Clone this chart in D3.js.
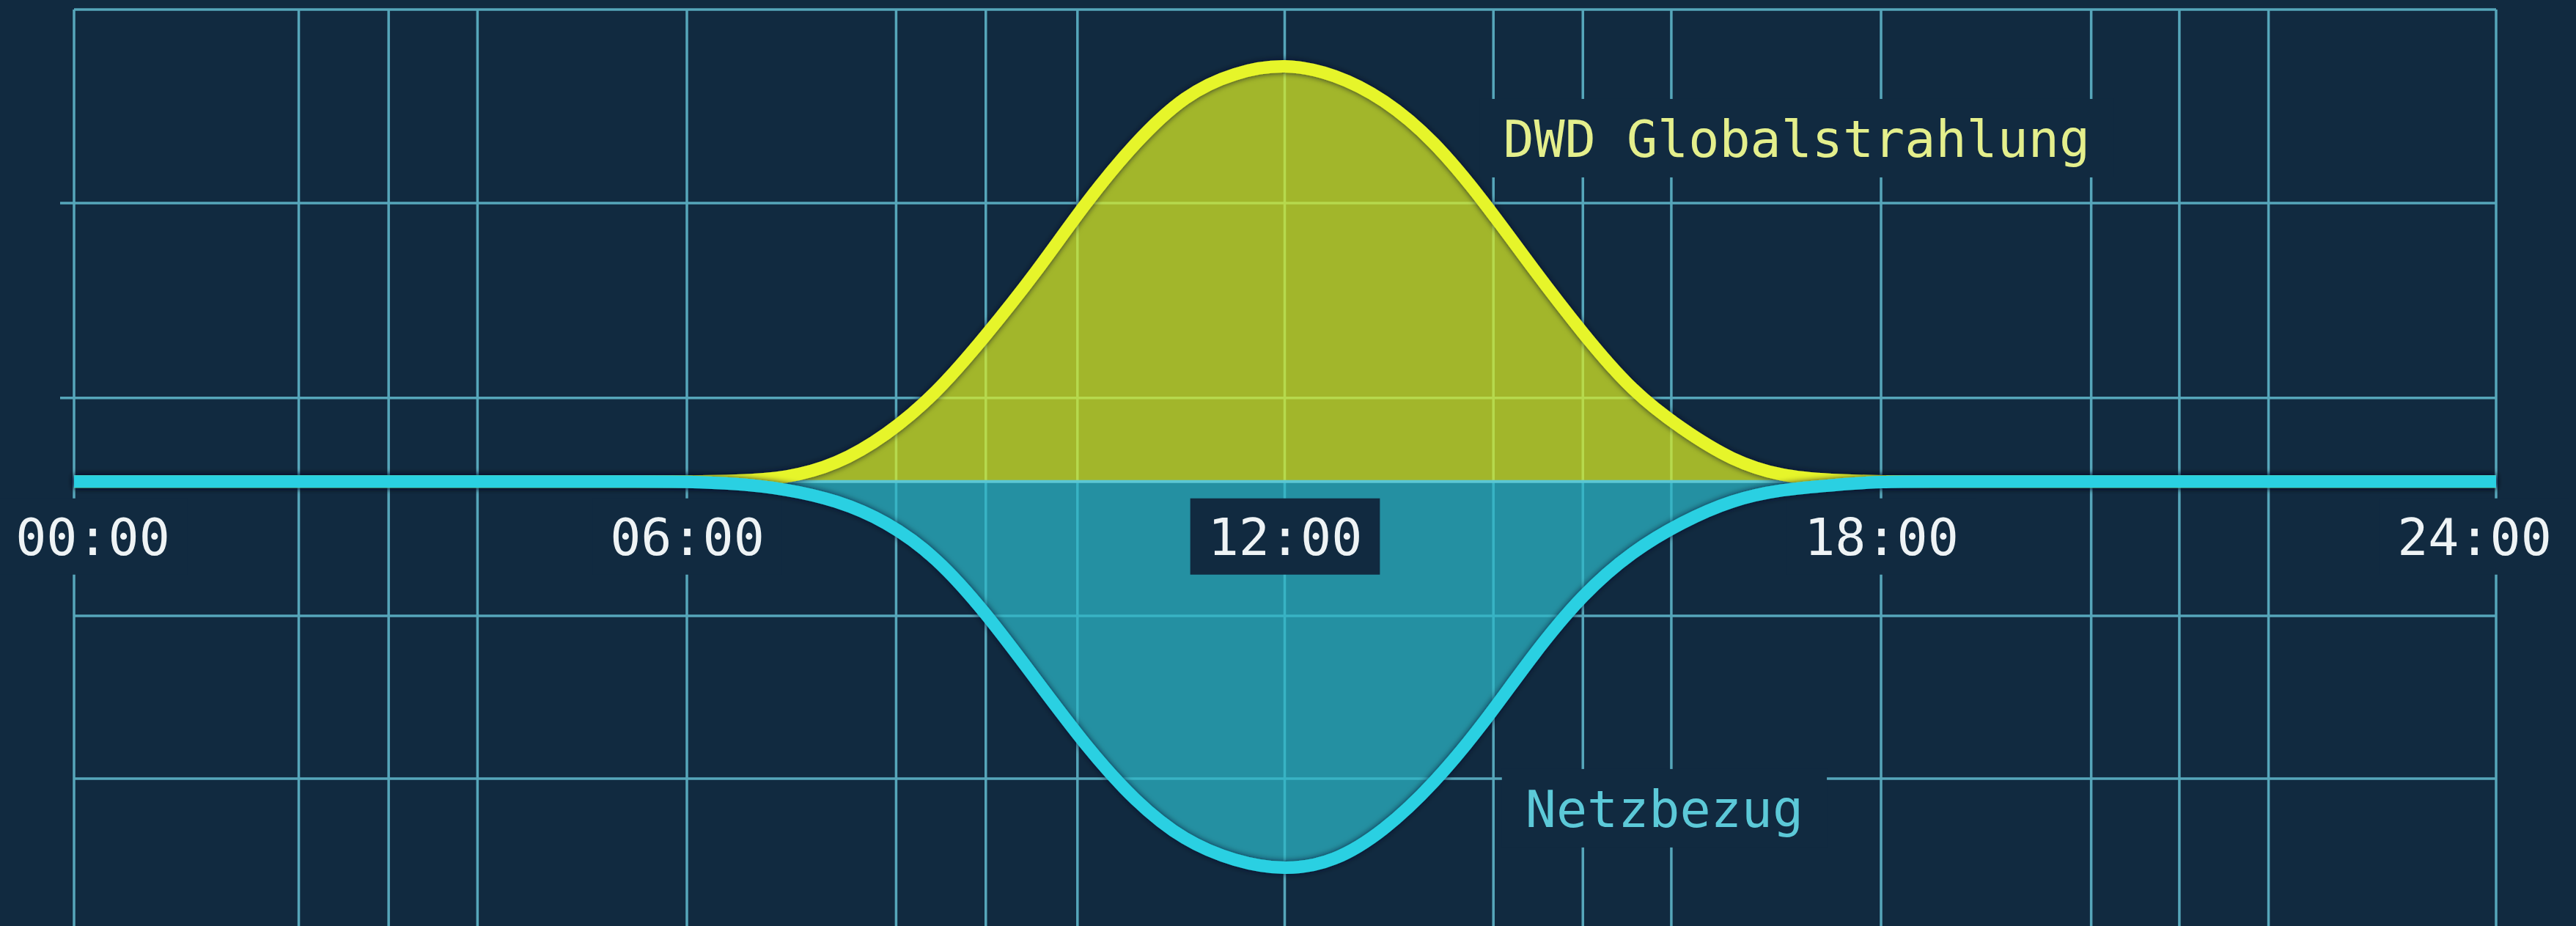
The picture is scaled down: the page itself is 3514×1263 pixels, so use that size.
<!DOCTYPE html>
<html>
<head>
<meta charset="utf-8">
<script src="https://cdn.jsdelivr.net/npm/d3@7"></script>
<style>
  html, body { margin: 0; padding: 0; background: #112a40; overflow: hidden; }
  svg { display: block; }
</style>
</head>
<body>
<svg id="chart" width="3514" height="1263"></svg>
<script>
// ---------- DATA ----------
const hours = [0,0.5,1,1.5,2,2.5,3,3.5,4,4.5,5,5.5,6,6.5,7,7.5,8,8.5,9,9.5,10,10.5,11,11.5,12,
               12.5,13,13.5,14,14.5,15,15.5,16,16.5,17,17.5,18,18.5,19,19.5,20,20.5,21,21.5,22,22.5,23,23.5,24];
// DWD Globalstrahlung (relative units, above the zero line)
const globalstrahlung = [0,0,0,0,0,0,0,0,0,0,0,0,0,
                         0.1,0.8,4,11,21,35,50,67,81.6,93,98.4,100.5,
                         98,92,82,67.5,51,35.5,21.5,12.5,5,1.2,0.3,0,
                         0,0,0,0,0,0,0,0,0,0,0,0];
// Netzbezug (relative units, below the zero line)
const netzbezug = [0,0,0,0,0,0,0,0,0,0,0,0,
                   0,-0.5,-1.8,-4.5,-9.5,-18,-31.5,-47.5,-63.5,-77,-86.5,-91.3,-93.5,
                   -91.5,-84,-72.7,-58.3,-41.5,-27,-16.7,-9.7,-4.4,-1.9,-0.9,0,
                   0,0,0,0,0,0,0,0,0,0,0,0];
const majorHours = [0, 6, 12, 18, 24];
const tickLabels = ["00:00", "06:00", "12:00", "18:00", "24:00"];
const minorHours = [2.2, 3.08, 3.95, 8.1, 9.0, 9.92, 14.1, 15.0, 15.89, 20.05, 20.91, 21.78];
const gridLevels = [66.9, 20.1, -32.3, -71.4];
const upperTickLevels = [66.9, 20.1];
const topLevel = 113.4;
const seriesLabels = [
  { text: "DWD Globalstrahlung", hour: 17.15, value: 78, color: "#e4ef8c" },
  { text: "Netzbezug", hour: 15.82, value: -83, color: "#5cc9d8" }
];

// ---------- LAYOUT ----------
const W = 3514, H = 1263;
const BG = "#112a40";
const GRID = "#56a6ba";
const svg = d3.select("#chart");

const x = d3.scaleLinear().domain(majorHours).range([101, 937, 1752.5, 2566, 3405]);
const y = d3.scaleLinear().domain([-106.8, topLevel]).range([H, 13]);
const FONT = "'DejaVu Sans Mono', 'Liberation Mono', monospace";
const curve = d3.curveBasis;

const defs = svg.append("defs");
const f = defs.append("filter").attr("id", "shadow")
  .attr("x", "-5%").attr("y", "-20%").attr("width", "110%").attr("height", "140%");
f.append("feDropShadow").attr("dx", 0).attr("dy", 0).attr("stdDeviation", 4)
  .attr("flood-color", "#061220").attr("flood-opacity", 0.75);

svg.append("rect").attr("width", W).attr("height", H).attr("fill", BG);

// ---------- GRID ----------
const grid = svg.append("g").attr("stroke", GRID).attr("stroke-width", 3.5).attr("fill", "none");
grid.selectAll("line.h").data(gridLevels).join("line").attr("class", "h")
  .attr("x1", d => upperTickLevels.includes(d) ? x(0) - 19 : x(0))
  .attr("x2", x(24)).attr("y1", d => y(d)).attr("y2", d => y(d));
grid.append("line").attr("x1", x(0)).attr("x2", x(24)).attr("y1", y(topLevel)).attr("y2", y(topLevel));
grid.selectAll("line.v").data(majorHours.concat(minorHours)).join("line").attr("class", "v")
  .attr("x1", d => x(d)).attr("x2", d => x(d)).attr("y1", y(topLevel)).attr("y2", H);

// ---------- SERIES LABELS ----------
const labelG = svg.append("g");
const labelTexts = seriesLabels.map(l => labelG.append("text")
    .attr("x", x(l.hour)).attr("y", y(l.value))
    .attr("text-anchor", "middle").attr("font-family", FONT).attr("font-size", 70)
    .attr("fill", l.color).text(l.text));
labelTexts.forEach(t => {
  const w = t.node().getComputedTextLength();
  const cx = +t.attr("x"), by = +t.attr("y");
  labelG.insert("rect", "text").attr("x", cx - w / 2 - 32).attr("width", w + 64)
    .attr("y", by - 79).attr("height", 107).attr("fill", BG);
});

// ---------- AREAS ----------
const data = hours.map((h, i) => ({ h, g: globalstrahlung[i], n: netzbezug[i] }));
const areaG = d3.area().x(d => x(d.h)).y0(y(0)).y1(d => y(d.g)).curve(curve);
const areaN = d3.area().x(d => x(d.h)).y0(y(0)).y1(d => y(d.n)).curve(curve);
svg.append("path").datum(data).attr("d", areaG).attr("fill", "rgb(219,237,35)").attr("fill-opacity", 0.72);
svg.append("path").datum(data).attr("d", areaN).attr("fill", "rgb(45,184,199)").attr("fill-opacity", 0.72);

// zero line (thin)
svg.append("line").attr("x1", x(0)).attr("x2", x(24)).attr("y1", y(0)).attr("y2", y(0))
  .attr("stroke", "#5cc7d3").attr("stroke-width", 4);

// ---------- X AXIS ----------
const axis = d3.axisBottom(x).tickValues(majorHours)
  .tickFormat((d, i) => tickLabels[i]).tickSize(0).tickPadding(0);
const axG = svg.append("g").attr("transform", `translate(0, ${y(0) + 100})`).call(axis);
axG.select(".domain").remove();
axG.selectAll(".tick text")
  .attr("y", 0).attr("dy", 0)
  .attr("x", (d, i) => i === 0 ? 25 : (i === majorHours.length - 1 ? -30 : 0))
  .attr("font-family", FONT).attr("font-size", 70).attr("fill", "#eef3f5");
axG.selectAll(".tick").each(function () {
  const t = d3.select(this).select("text");
  const w = t.node().getComputedTextLength();
  d3.select(this).insert("rect", "text")
    .attr("x", +t.attr("x") - w / 2 - 24).attr("width", w + 48)
    .attr("y", -77).attr("height", 104).attr("fill", BG);
});

// ---------- LINES ----------
const lineG = d3.line().x(d => x(d.h)).y(d => y(d.g)).curve(curve);
const lineN = d3.line().x(d => x(d.h)).y(d => y(d.n)).curve(curve);
svg.append("path").datum(data).attr("d", lineG).attr("fill", "none")
  .attr("stroke", "#e6f52a").attr("stroke-width", 17).attr("stroke-linecap", "butt")
  .attr("filter", "url(#shadow)");
svg.append("path").datum(data).attr("d", lineN).attr("fill", "none")
  .attr("stroke", "#2ad0e2").attr("stroke-width", 17).attr("stroke-linecap", "butt")
  .attr("filter", "url(#shadow)");

labelG.raise();
</script>
</body>
</html>
